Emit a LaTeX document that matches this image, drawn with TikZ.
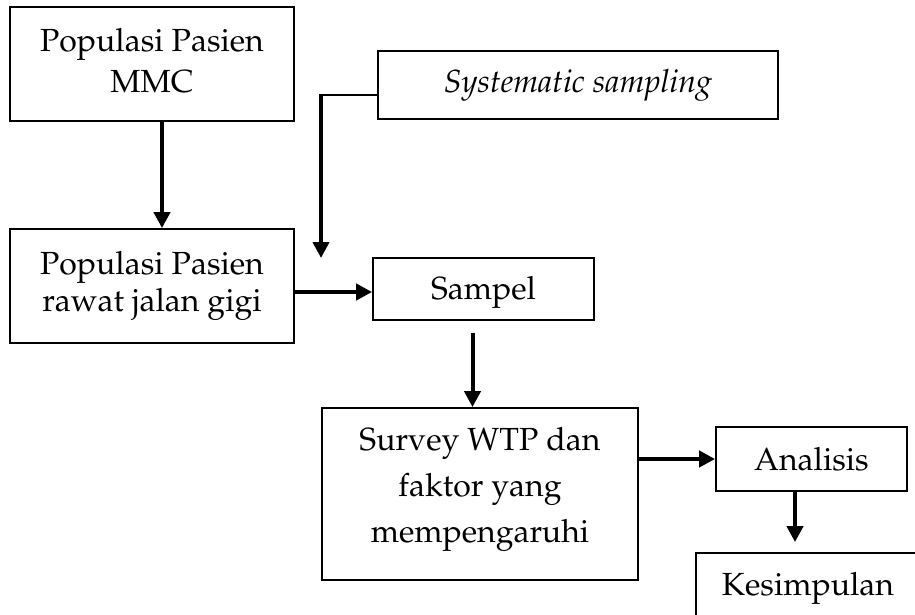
\documentclass[tikz,border=0pt]{standalone}
\usepackage[T1]{fontenc}
\usepackage{mathpazo}
\usetikzlibrary{arrows.meta}
\begin{document}
\begin{tikzpicture}[x=1pt,y=-1pt,
  box/.style={draw, line width=1.8pt, rectangle, inner sep=0pt, align=center},
  txt/.style={font=\fontsize{32}{#1}\selectfont},
  arr/.style={line width=4pt, -{Triangle[length=16pt,width=16pt]}},
  feed/.style={line width=1.3pt}]
  % page area
  \useasboundingbox (0,0) rectangle (915,615);
  \fill[white] (0,0) rectangle (915,615);
  \clip (0,0) rectangle (915,615);

  % process boxes
  \node[box, txt=41, text depth=8pt, minimum width=284pt, minimum height=114pt] (pop) at (152,64) {Populasi Pasien\\MMC};
  \node[box, txt=37, minimum width=284pt, minimum height=114pt] (rj) at (152,286) {Populasi Pasien\\rawat jalan gigi};
  \node[box, txt=40, minimum width=400pt, minimum height=68pt] (sys) at (578,85) {\itshape Systematic sampling};
  \node[box, txt=40, text height=31pt, minimum width=221pt, minimum height=62pt] (smp) at (483.5,289) {Sampel};
  \node[box, txt=46, text depth=19pt, minimum width=316pt, minimum height=172pt] (srv) at (480,494) {Survey WTP dan\\faktor yang\\mempengaruhi};
  \node[box, txt=40, minimum width=191pt, minimum height=64pt] (ana) at (811.5,459) {Analisis};
  \node[box, txt=40, minimum width=224pt, minimum height=70pt] (kes) at (808,588) {Kesimpulan};

  % sampling method feeding into the sample
  \coordinate (bend) at (321,95);
  \coordinate (drop) at (321,258);
  \draw[feed] ([yshift=-10pt]sys.west) -- (bend);
  \draw[arr] ([yshift=0.65pt]bend) -- (drop);

  % flow arrows
  \draw[arr] ([xshift=10pt]pop.south) -- ([xshift=10pt]rj.north);
  \draw[arr] ([yshift=-3pt]smp.west -| rj.east) -- ([yshift=-3pt]smp.west);
  \draw[arr, shorten <=12pt] ([xshift=-11pt]smp.south) -- ([xshift=-11pt]smp.south |- srv.north);
  \draw[arr] (srv.east |- ana.west) -- (ana.west);
  \draw[arr, shorten >=10pt] ([xshift=-16.5pt]ana.south) -- ([xshift=-16.5pt]ana.south |- kes.north);
\end{tikzpicture}
\end{document}
